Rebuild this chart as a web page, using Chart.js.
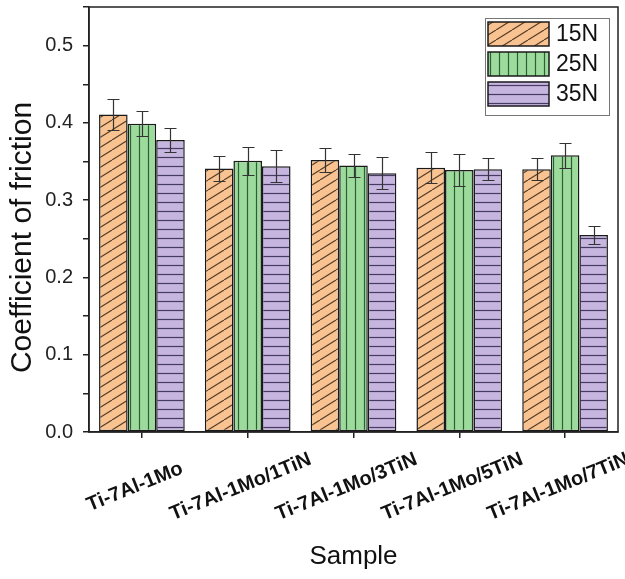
<!DOCTYPE html>
<html>
<head>
<meta charset="utf-8">
<script src="https://cdn.jsdelivr.net/npm/chart.js@4.4.1/dist/chart.umd.min.js"></script>
<style>
    html, body { margin: 0; padding: 0; background: #fff; }
    #wrap { width: 625px; height: 579px; }
</style>
</head>
<body>
<div id="wrap"><canvas id="grafico" width="625" height="579"></canvas></div>
<script>
// Dados do gráfico
const amostras = ['Ti-7Al-1Mo', 'Ti-7Al-1Mo/1TiN', 'Ti-7Al-1Mo/3TiN', 'Ti-7Al-1Mo/5TiN', 'Ti-7Al-1Mo/7TiN'];
const cargas = ['15N', '25N', '35N'];
const cof15 = [0.411, 0.341, 0.352, 0.342, 0.340];
const cof25 = [0.399, 0.351, 0.345, 0.339, 0.358];
const cof35 = [0.378, 0.344, 0.335, 0.340, 0.255];
const err15 = [0.020, 0.016, 0.015, 0.020, 0.014];
const err25 = [0.016, 0.018, 0.015, 0.021, 0.016];
const err35 = [0.016, 0.021, 0.021, 0.014, 0.012];

const fonte = "'Liberation Sans', Arial, sans-serif";
Chart.defaults.font.family = fonte;
Chart.defaults.color = '#222';

// Padrões de preenchimento (hachuras)
function criarPadrao(fundo, linha, tipo) {
    const c = document.createElement('canvas');
    const ctx = c.getContext('2d');
    if (tipo === 'diag') {
        c.width = 16; c.height = 10;
    } else {
        c.width = 9; c.height = 9;
    }
    ctx.fillStyle = fundo;
    ctx.fillRect(0, 0, c.width, c.height);
    ctx.strokeStyle = linha;
    ctx.lineWidth = 1.2;
    ctx.beginPath();
    if (tipo === 'diag') {
        for (let k = -1; k <= 1; k++) {
            ctx.moveTo(k * 16, 10);
            ctx.lineTo(k * 16 + 16, 0);
        }
    } else if (tipo === 'vert') {
        ctx.moveTo(4.5, 0); ctx.lineTo(4.5, 9);
    } else {
        ctx.moveTo(0, 4.5); ctx.lineTo(9, 4.5);
    }
    ctx.stroke();
    return ctx.createPattern(c, 'repeat');
}

const padrao15 = criarPadrao('#f9c391', '#5a4028', 'diag');
const padrao25 = criarPadrao('#9ddb9d', '#2e5e36', 'vert');
const padrao35 = criarPadrao('#c6b5de', '#453a62', 'horiz');

const erros = [err15, err25, err35];

// Barras de erro
const pluginErros = {
    id: 'barrasErro',
    afterDatasetsDraw(chart) {
        const ctx = chart.ctx;
        const y = chart.scales.y;
        ctx.save();
        ctx.strokeStyle = '#333';
        ctx.lineWidth = 1.2;
        chart.data.datasets.forEach((ds, d) => {
            const meta = chart.getDatasetMeta(d);
            meta.data.forEach((bar, i) => {
                const v = ds.data[i];
                const e = erros[d][i];
                const yt = Math.round(y.getPixelForValue(v + e)) + 0.5;
                const yb = Math.round(y.getPixelForValue(v - e)) + 0.5;
                const x = Math.round(bar.x) + 0.5;
                ctx.beginPath();
                ctx.moveTo(x, yt); ctx.lineTo(x, yb);
                ctx.moveTo(x - 6, yt); ctx.lineTo(x + 6, yt);
                ctx.moveTo(x - 6, yb); ctx.lineTo(x + 6, yb);
                ctx.stroke();
            });
        });
        ctx.restore();
    }
};

// Moldura, título do eixo Y, rótulos do eixo X e legenda
const pluginExtras = {
    id: 'extras',
    afterDraw(chart) {
        const ctx = chart.ctx;
        const a = chart.chartArea;
        ctx.save();

        // moldura
        ctx.strokeStyle = '#222';
        ctx.lineWidth = 1.5;
        ctx.strokeRect(a.left, a.top, a.right - a.left, a.bottom - a.top);

        // título Y
        ctx.fillStyle = '#111';
        ctx.font = '30px ' + fonte;
        ctx.textAlign = 'center';
        ctx.textBaseline = 'middle';
        ctx.save();
        ctx.translate(23, (a.top + a.bottom) / 2 + 18);
        ctx.rotate(-Math.PI / 2);
        ctx.fillText('Coefficient of friction', 0, 0);
        ctx.restore();

        // rótulos X rotacionados
        const xs = chart.scales.x;
        ctx.font = 'bold 20px ' + fonte;
        ctx.fillStyle = '#111';
        amostras.forEach((txt, i) => {
            const px = xs.getPixelForTick(i);
            ctx.save();
            ctx.translate(px - 7, a.bottom + 55);
            ctx.rotate(-22 * Math.PI / 180);
            ctx.fillText(txt, 0, 0);
            ctx.restore();
        });

        // legenda
        const lx = a.right - 133;
        const ly = a.top + 11;
        ctx.strokeStyle = '#777';
        ctx.lineWidth = 1;
        ctx.strokeRect(lx + 0.5, ly + 0.5, 124, 97);
        const pads = [padrao15, padrao25, padrao35];
        ctx.font = '23px ' + fonte;
        ctx.textAlign = 'left';
        cargas.forEach((nome, k) => {
            const sy = ly + 4 + k * 30;
            ctx.fillStyle = pads[k];
            ctx.fillRect(lx + 3, sy, 61, 24);
            ctx.strokeStyle = '#1a1a1a';
            ctx.lineWidth = 1.5;
            ctx.strokeRect(lx + 3, sy, 61, 24);
            ctx.fillStyle = '#111';
            ctx.fillText(nome, lx + 71, sy + 13);
        });
        ctx.restore();
    }
};

new Chart(document.getElementById('grafico'), {
    type: 'bar',
    data: {
        labels: amostras,
        datasets: [
            { label: cargas[0], data: cof15, backgroundColor: padrao15 },
            { label: cargas[1], data: cof25, backgroundColor: padrao25 },
            { label: cargas[2], data: cof35, backgroundColor: padrao35 }
        ]
    },
    options: {
        responsive: false,
        animation: false,
        layout: { padding: { top: 7, right: 7, left: 0, bottom: 0 } },
        datasets: {
            bar: {
                categoryPercentage: 0.81,
                barPercentage: 1.0,
                borderColor: '#1a1a1a',
                borderWidth: 1.5,
                borderSkipped: false
            }
        },
        plugins: {
            legend: { display: false },
            tooltip: { enabled: false }
        },
        scales: {
            x: {
                afterFit(scale) {
                    scale.height = 147;
                    scale.paddingLeft = 0;
                    scale.paddingRight = 0;
                },
                ticks: { display: false },
                grid: {
                    offset: false,
                    drawOnChartArea: false,
                    drawTicks: true,
                    tickLength: 6,
                    color: '#222',
                    lineWidth: 1.5
                },
                border: { display: true, color: '#222', width: 1.5 },
                title: {
                    display: true,
                    text: 'Sample',
                    font: { size: 26 },
                    color: '#111',
                    padding: { top: 0, bottom: 7 }
                }
            },
            y: {
                afterFit(scale) {
                    scale.width = 89;
                    scale.paddingTop = 0;
                    scale.paddingBottom = 0;
                },
                min: 0,
                max: 0.55,
                ticks: {
                    stepSize: 0.05,
                    padding: 10,
                    font: { size: 20 },
                    color: '#222',
                    callback: function(v) {
                        const c = Math.round(v * 100);
                        return c % 10 === 0 ? (c / 100).toFixed(1) : '';
                    }
                },
                grid: {
                    drawOnChartArea: false,
                    drawTicks: true,
                    tickLength: 6,
                    color: '#222',
                    lineWidth: 1.5
                },
                border: { display: true, color: '#222', width: 1.5 }
            }
        }
    },
    plugins: [pluginErros, pluginExtras]
});
</script>
</body>
</html>
